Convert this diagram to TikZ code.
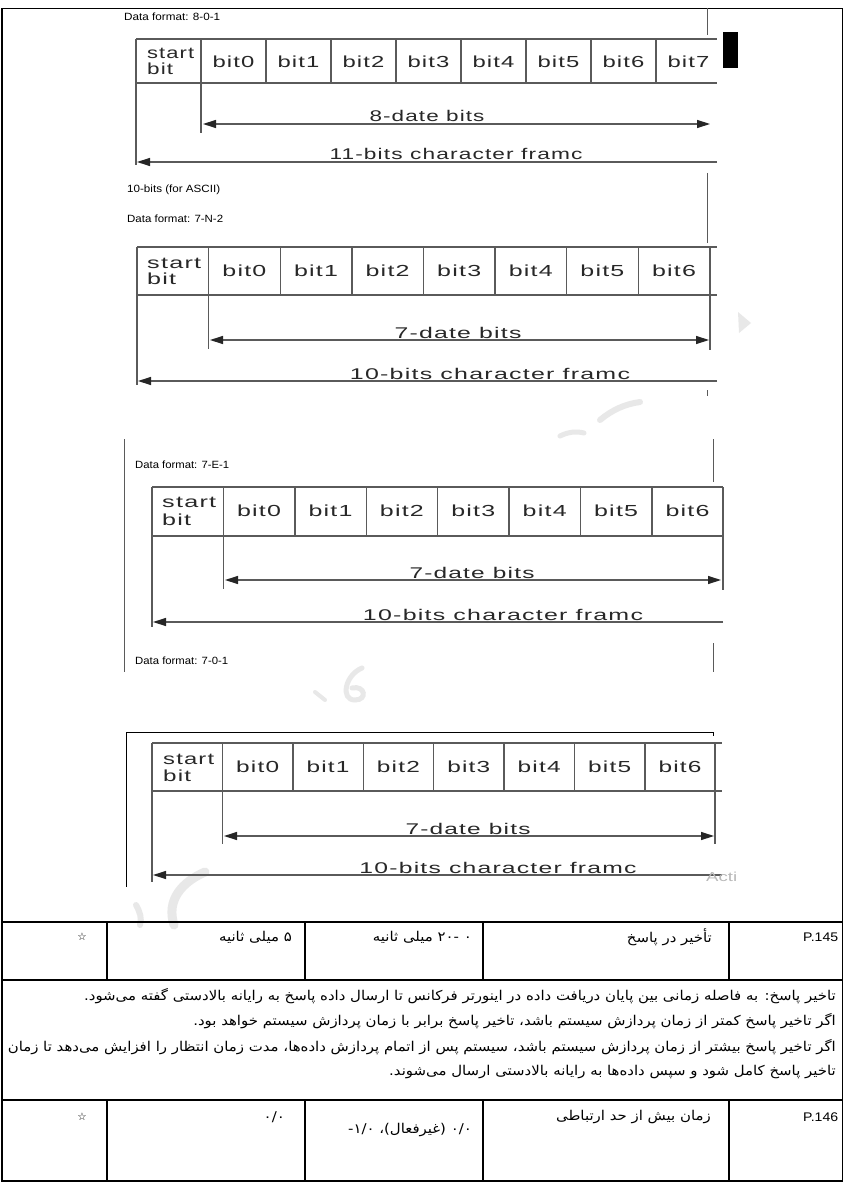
\documentclass[tikz,border=0pt]{standalone}
\usepackage{fontspec}
\usepackage{graphicx}
\usetikzlibrary{arrows.meta}
\setmainfont{Liberation Sans}
\newfontfamily\diagfont[LetterSpace=5]{Liberation Sans}
\newfontfamily\fa[Script=Arabic]{DejaVu Sans}
\newfontfamily\symfont{DejaVu Sans}
\TeXXeTstate=1
\newcommand\fitw[2]{\resizebox{#1pt}{\height}{#2}}
\newcommand\dsone{تاخیر پاسخ: به فاصله زمانی بین پایان دریافت داده در اینورتر فرکانس تا ارسال داده پاسخ به رایانه بالادستی گفته می‌شود.}
\newcommand\dstwo{اگر تاخیر پاسخ کمتر از زمان پردازش سیستم باشد، تاخیر پاسخ برابر با زمان پردازش سیستم خواهد بود.}
\newcommand\dsthree{اگر تاخیر پاسخ بیشتر از زمان پردازش سیستم باشد، سیستم پس از اتمام پردازش داده‌ها، مدت زمان انتظار را افزایش می‌دهد تا زمان}
\newcommand\dsfour{تاخیر پاسخ کامل شود و سپس داده‌ها به رایانه بالادستی ارسال می‌شوند.}
\newlength\Lthree
\newsavebox\fabox
% scale every Persian line by the same factor: line 3 fills 828pt
\newcommand\faline[1]{\settowidth\Lthree{\beginR\dsthree\endR}\sbox\fabox{\beginR#1\endR}\resizebox{\dimexpr\wd\fabox*54263808/\number\Lthree\relax}{\height}{\usebox\fabox}}
\definecolor{ln}{RGB}{90,90,90}
\definecolor{tx}{RGB}{40,40,40}
\definecolor{wm}{RGB}{232,232,232}
\tikzset{
  tbl/.style={draw=ln, line width=1.4pt},
  frm/.style={draw=black, line width=1.2pt},
  thinln/.style={draw=ln, line width=1pt},
  cell/.style={inner sep=0pt, text=tx, font=\diagfont\fontsize{16}{18}\selectfont},
  albl/.style={inner sep=0pt, text=tx, font=\diagfont\fontsize{15.5}{17}\selectfont, anchor=base},
  fmt/.style={inner sep=0pt, text=black, font=\fontsize{10.5}{12}\selectfont, anchor=west},
  fatx/.style={inner sep=0pt, font=\fa\fontsize{13.5}{16}\selectfont},
  pnum/.style={inner sep=0pt, font=\fontsize{12.5}{15}\selectfont, anchor=west},
  arrboth/.style={draw=ln, line width=1.3pt, {Triangle[length=13pt,width=8pt,color=black!85]}-{Triangle[length=13pt,width=8pt,color=black!85]}},
  arrone/.style={draw=ln, line width=1.3pt, -{Triangle[length=13pt,width=8pt,color=black!85]}},
  wmark/.style={draw=wm, line cap=round}
}
\begin{document}
\begin{tikzpicture}[x=1pt,y=-1pt]
\useasboundingbox (0,0) rectangle (844,1182);
\fill[white] (0,0) rectangle (844,1182);

% watermark fragments
\fill[wm] (738,312) -- (751,323) -- (739,333) -- cycle;
\draw[wmark, line width=6pt] (600,420) .. controls (612,410) and (625,404) .. (640,402);
\draw[wmark, line width=5pt] (560,436) .. controls (568,432) and (576,431) .. (584,433);
\draw[wmark, line width=5pt] (362,668) .. controls (345,675) and (340,700) .. (355,700) .. controls (368,700) and (365,685) .. (352,688);
\draw[wmark, line width=4pt] (315,692) -- (325,700);
\draw[wmark, line width=9pt] (205,872) .. controls (182,882) and (166,900) .. (174,925);
\draw[wmark, line width=6pt] (136,905) .. controls (140,912) and (142,918) .. (140,925);

% outer frame
\draw[frm] (2,8.5) rectangle (842.5,1181);

% ---------- Section 1: 8-0-1 ----------
\node[fmt] (f1) at (124,17) {\fitw{96}{Data format: 8-0-1}};
\draw[thinln] (707,8) -- (707,35);
\fill[black] (723,32) rectangle (738,68);
\draw[tbl] (136,39) -- (717,39);
\draw[tbl] (136,83) -- (717,83);
\foreach \k in {2,...,8} \draw[tbl] ({136+65*\k},39) -- ({136+65*\k},83);
\draw[tbl] (136,39) -- (136,165);
\draw[tbl] (201,39) -- (201,133);
\node[cell, anchor=west] (s1a) at (147,53) {\fitw{47}{start}};
\node[cell, anchor=west] (s1b) at (147,69) {\fitw{26}{bit}};
\foreach \k in {0,...,7} \node[cell] (s1c\k) at ({136+65*(\k+1.5)},62) {\fitw{42}{bit\k}};
\coordinate (s1p) at (203,124); \coordinate (s1q) at (710,124);
\draw[arrboth] (s1p) -- (s1q);
\node[albl] (s1t) at (427,122) {\fitw{115}{8-date bits}};
\coordinate (s1r) at (137,162); \coordinate (s1s) at (717,162);
\draw[arrone] (s1s) -- (s1r);
\node[albl] (s1u) at (456,160) {\fitw{253}{11-bits character framc}};

% ---------- Section 2: 7-N-2 ----------
\draw[thinln] (707,173) -- (707,243);
\draw[thinln] (707,390) -- (707,396);
\node[fmt] (f2a) at (127,190) {\fitw{93}{10-bits (for ASCII)}};
\node[fmt] (f2) at (127,219) {\fitw{96}{Data format: 7-N-2}};
\draw[tbl] (137,247) -- (717,247);
\draw[tbl] (137,295) -- (717,295);
\foreach \k in {2,...,7} \draw[tbl] ({137+71.6*\k},247) -- ({137+71.6*\k},295);
\draw[tbl] (710,247) -- (710,350);
\draw[tbl] (137,247) -- (137,385);
\draw[tbl] (208.6,247) -- (208.6,349);
\node[cell, anchor=west] (s2a) at (147,263) {\fitw{54}{start}};
\node[cell, anchor=west] (s2b) at (147,279) {\fitw{29}{bit}};
\foreach \k in {0,...,6} \node[cell] (s2c\k) at ({137+71.6*(\k+1.5)},271) {\fitw{44}{bit\k}};
\coordinate (s2p) at (210,340); \coordinate (s2q) at (709,340);
\draw[arrboth] (s2p) -- (s2q);
\node[albl] (s2t) at (458,338) {\fitw{127}{7-date bits}};
\coordinate (s2r) at (138,381); \coordinate (s2s) at (717,381);
\draw[arrone] (s2s) -- (s2r);
\node[albl] (s2u) at (490,379) {\fitw{280}{10-bits character framc}};

% ---------- Section 3: 7-E-1 ----------
\draw[thinln] (124,439) -- (124,672);
\draw[thinln] (713,439) -- (713,482);
\draw[thinln] (713,643) -- (713,672);
\node[fmt] (f3) at (135,465) {\fitw{94}{Data format: 7-E-1}};
\draw[tbl] (152,487) -- (723,487);
\draw[tbl] (152,536) -- (723,536);
\foreach \k in {2,...,7} \draw[tbl] ({152+71.4*\k},487) -- ({152+71.4*\k},536);
\draw[tbl] (723,487) -- (723,590);
\draw[tbl] (152,487) -- (152,627);
\draw[tbl] (223.4,487) -- (223.4,589);
\node[cell, anchor=west] (s3a) at (162,502) {\fitw{54}{start}};
\node[cell, anchor=west] (s3b) at (162,520) {\fitw{29}{bit}};
\foreach \k in {0,...,6} \node[cell] (s3c\k) at ({152+71.4*(\k+1.5)},511) {\fitw{44}{bit\k}};
\coordinate (s3p) at (225,580); \coordinate (s3q) at (721,580);
\draw[arrboth] (s3p) -- (s3q);
\node[albl] (s3t) at (472,578) {\fitw{125}{7-date bits}};
\coordinate (s3r) at (153,622); \coordinate (s3s) at (723,622);
\draw[arrone] (s3s) -- (s3r);
\node[albl] (s3u) at (503,620) {\fitw{280}{10-bits character framc}};
\node[fmt] (f4) at (135,661) {\fitw{93}{Data format: 7-0-1}};

% ---------- Section 4: 7-0-1 ----------
\draw[draw=black, line width=1pt] (126,732) -- (713,732) -- (713,736);
\draw[draw=black, line width=1pt] (126,732) -- (126,887);
\draw[tbl] (152,743) -- (722,743);
\draw[tbl] (152,791) -- (722,791);
\foreach \k in {2,...,7} \draw[tbl] ({152+70.4*\k},743) -- ({152+70.4*\k},791);
\draw[tbl] (715,743) -- (715,844);
\draw[tbl] (152,743) -- (152,882);
\draw[tbl] (222.4,743) -- (222.4,844);
\node[cell, anchor=west] (s4a) at (163,759) {\fitw{51}{start}};
\node[cell, anchor=west] (s4b) at (163,776) {\fitw{28}{bit}};
\foreach \k in {0,...,6} \node[cell] (s4c\k) at ({152+70.4*(\k+1.5)},767) {\fitw{43}{bit\k}};
\coordinate (s4p) at (224,836); \coordinate (s4q) at (714,836);
\draw[arrboth] (s4p) -- (s4q);
\node[albl] (s4t) at (468,834) {\fitw{125}{7-date bits}};
\coordinate (s4r) at (153,875); \coordinate (s4s) at (722,875);
\draw[arrone] (s4s) -- (s4r);
\node[albl] (s4u) at (498,873) {\fitw{277}{10-bits character framc}};
\node[inner sep=0pt, anchor=west, text=gray!55, font=\fontsize{13}{15}\selectfont] (acti) at (706,877) {\fitw{31}{Acti}};

% ---------- Parameter table ----------
\draw[frm] (2,922) -- (842.5,922);
\draw[frm] (2,980) -- (842.5,980);
\draw[frm] (2,1100) -- (842.5,1100);
\foreach \x in {107,305,483,729} {
  \draw[frm] (\x,922) -- (\x,980);
  \draw[frm] (\x,1100) -- (\x,1181);
}
% P.145
\node[pnum] (p145) at (803,937) {\fitw{35}{P.145}};
\node[fatx, anchor=east] (n145) at (712,937) {\faline{تأخیر در پاسخ}};
\node[fatx, anchor=east] (r145) at (472,937) {\faline{۰ -۲۰ میلی ثانیه}};
\node[fatx, anchor=east] (d145) at (292,937) {\faline{۵ میلی ثانیه}};
\node[inner sep=0pt, font=\symfont\fontsize{10.5}{12}\selectfont] (st145) at (82,937) {☆};
% description
\node[fatx, anchor=east] (ds1) at (836,996) {\faline{\dsone}};
\node[fatx, anchor=east] (ds2) at (836,1021) {\faline{\dstwo}};
\node[fatx, anchor=east] (ds3) at (836,1047) {\faline{\dsthree}};
\node[fatx, anchor=east] (ds4) at (836,1072) {\faline{\dsfour}};
% P.146
\node[pnum] (p146) at (803,1117) {\fitw{35}{P.146}};
\node[fatx, anchor=east] (n146) at (711,1117) {\faline{زمان بیش از حد ارتباطی}};
\node[fatx, anchor=east] (r146) at (472,1130) {\faline{۰/۰ (غیرفعال)، ۱/۰-}};
\node[fatx, anchor=east] (d146) at (285,1117) {\faline{۰/۰}};
\node[inner sep=0pt, font=\symfont\fontsize{10.5}{12}\selectfont] (st146) at (82,1117) {☆};
\end{tikzpicture}
\end{document}
